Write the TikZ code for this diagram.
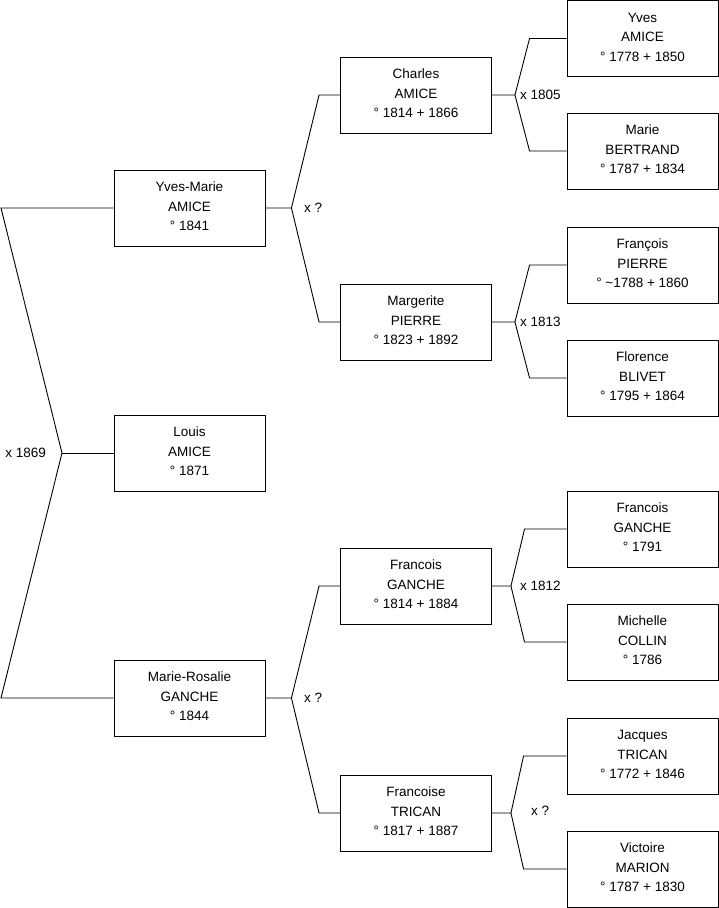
\documentclass[tikz,border=0pt]{standalone}
\usepackage{fontspec}
\setmainfont{Liberation Sans}
\usepackage{tikz}
\usetikzlibrary{positioning}

\begin{document}
\begin{tikzpicture}[x=1pt, y=-1pt,
    person/.style={draw, line width=0.9pt, minimum width=151pt, minimum height=76pt,
                   inner sep=0pt, align=center, font=\fontsize{13.5}{19.5}\selectfont,
                   text height=48pt, text depth=3pt},
    link/.style={line width=0.9pt},
    union/.style={inner sep=0pt, font=\fontsize{13.5}{16}\selectfont}
  ]
    \useasboundingbox (0,0) rectangle (719,908);
    % Generation 1
    \node[person] (yvesmarie) at (189.5,208) {Yves-Marie\\AMICE\\° 1841};
    \node[person] (louis) at (189.5,453) {Louis\\AMICE\\° 1871};
    \node[person] (marierosalie) at (189.5,698) {Marie-Rosalie\\GANCHE\\° 1844};
    % Generation 2
    \node[person] (charles) at (416,95) {Charles\\AMICE\\° 1814 + 1866};
    \node[person] (margerite) at (416,322) {Margerite\\PIERRE\\° 1823 + 1892};
    \node[person] (francois) at (416,586) {Francois\\GANCHE\\° 1814 + 1884};
    \node[person] (francoise) at (416,813) {Francoise\\TRICAN\\° 1817 + 1887};
    % Generation 3
    \node[person] (yves) at (642.5,38.5) {Yves\\AMICE\\° 1778 + 1850};
    \node[person] (marie) at (642.5,151) {Marie\\BERTRAND\\° 1787 + 1834};
    \node[person] (francoisp) at (642.5,265) {François\\PIERRE\\° \textasciitilde1788 + 1860};
    \node[person] (florence) at (642.5,378) {Florence\\BLIVET\\° 1795 + 1864};
    \node[person] (francoisg) at (642.5,529) {Francois\\GANCHE\\° 1791};
    \node[person] (michelle) at (642.5,642) {Michelle\\COLLIN\\° 1786};
    \node[person] (jacques) at (642.5,756) {Jacques\\TRICAN\\° 1772 + 1846};
    \node[person] (victoire) at (642.5,869) {Victoire\\MARION\\° 1787 + 1830};
    % Couple of Louis's parents
    \coordinate (top0) at (1,208);
    \coordinate (mid0) at (62,453);
    \coordinate (bot0) at (1,698);
    \draw[link] (yvesmarie.west) -- (top0) -- (mid0) -- (bot0) -- (marierosalie.west);
    \draw[link] (mid0) -- (louis.west);
    \node[union, anchor=east] (u0) at (46,453) {x 1869};
    % Parents of generation 1
    \draw[link] (yvesmarie.east) -- ++(26,0) coordinate (j1)
        -- ([xshift=-21pt]charles.west) -- (charles.west);
    \draw[link] (j1) -- ([xshift=-21pt]margerite.west) -- (margerite.west);
    \node[union, anchor=west] (u1) at (304,208) {x ?};
    \draw[link] (marierosalie.east) -- ++(26,0) coordinate (j2)
        -- ([xshift=-21pt]francois.west) -- (francois.west);
    \draw[link] (j2) -- ([xshift=-21pt]francoise.west) -- (francoise.west);
    \node[union, anchor=west] (u2) at (304,698) {x ?};
    % Parents of generation 2
    \draw[link] (charles.east) -- ++(23,0) coordinate (j3)
        -- ([xshift=-37pt]yves.west) -- (yves.west);
    \draw[link] (j3) -- ([xshift=-37pt]marie.west) -- (marie.west);
    \node[union, anchor=west] (u3) at (520,95) {x 1805};
    \draw[link] (margerite.east) -- ++(23,0) coordinate (j4)
        -- ([xshift=-37pt]francoisp.west) -- (francoisp.west);
    \draw[link] (j4) -- ([xshift=-37pt]florence.west) -- (florence.west);
    \node[union, anchor=west] (u4) at (520,322) {x 1813};
    \draw[link] (francois.east) -- ++(19,0) coordinate (j5)
        -- ([xshift=-42pt]francoisg.west) -- (francoisg.west);
    \draw[link] (j5) -- ([xshift=-42pt]michelle.west) -- (michelle.west);
    \node[union, anchor=west] (u5) at (520,586) {x 1812};
    \draw[link] (francoise.east) -- ++(19,0) coordinate (j6)
        -- ([xshift=-43pt]jacques.west) -- (jacques.west);
    \draw[link] (j6) -- ([xshift=-43pt]victoire.west) -- (victoire.west);
    \node[union, anchor=west] (u6) at (531,811) {x ?};
\end{tikzpicture}
\end{document}
